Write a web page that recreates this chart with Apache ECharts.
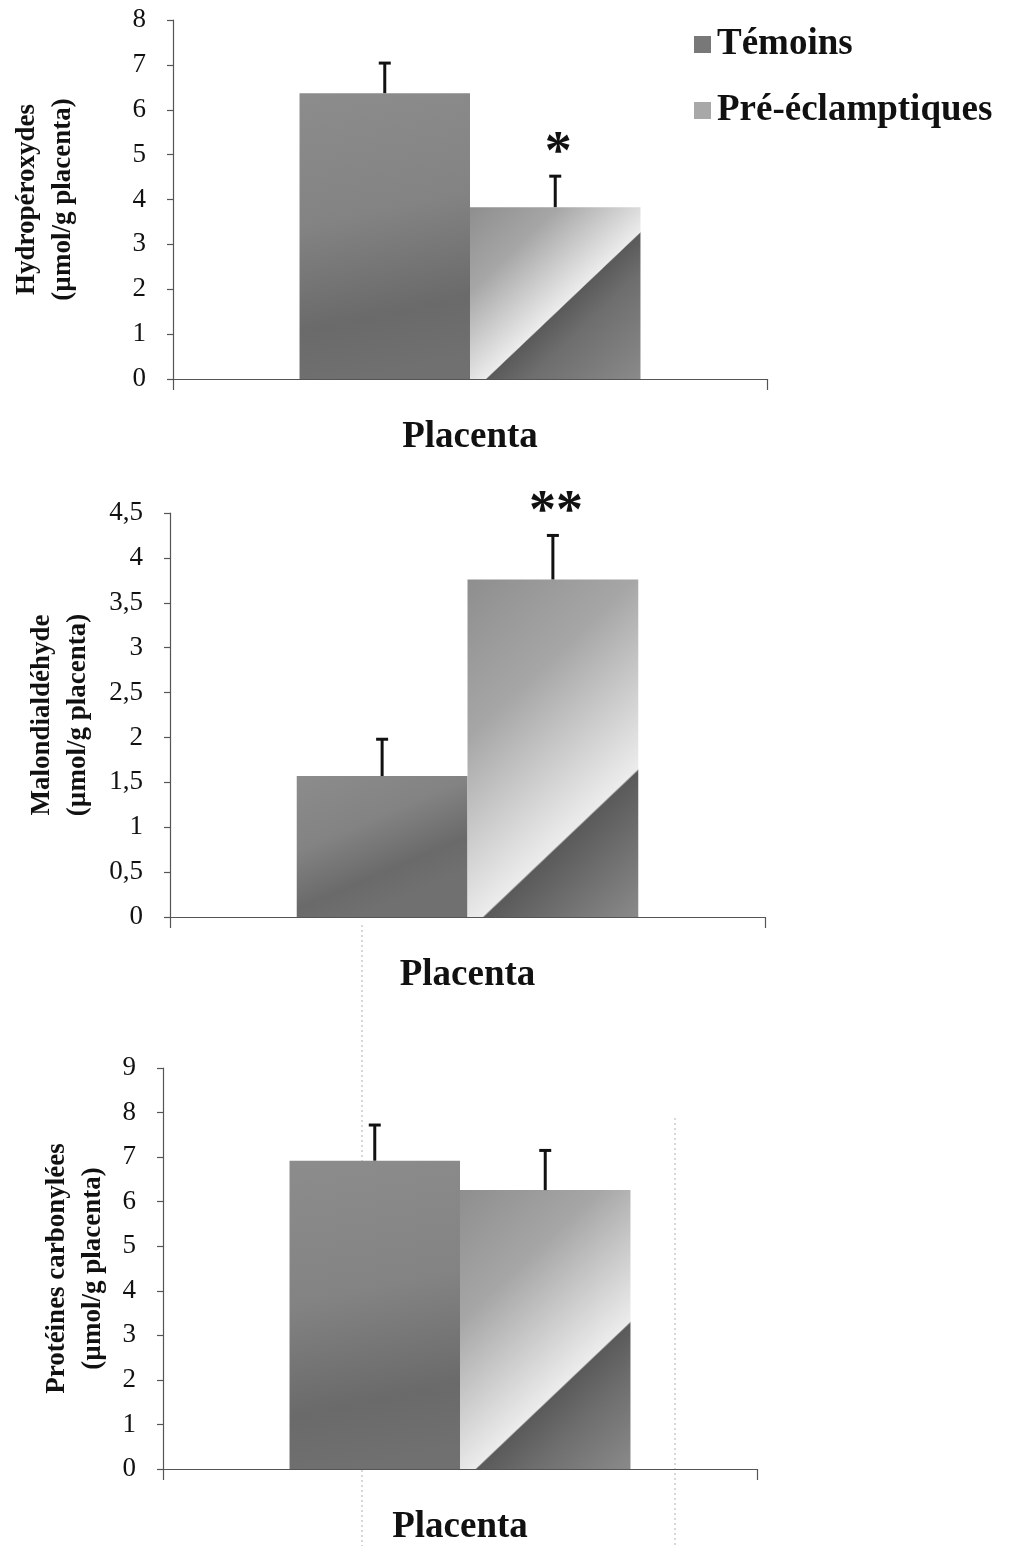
<!DOCTYPE html>
<html>
<head>
<meta charset="utf-8">
<script src="https://cdn.jsdelivr.net/npm/echarts@6/dist/echarts.min.js"></script>
<style>
  html, body { margin: 0; padding: 0; background: #ffffff; }
  #chart { width: 1010px; height: 1546px; }
</style>
</head>
<body>
<div id="chart"></div>
<script>
// Oxidative stress markers in placenta: controls vs pre-eclamptic pregnancies
const categories = ['Placenta'];
const groupNames = ['Témoins', 'Pré-éclamptiques'];
const axisTitles = [
  'Hydropéroxydes\n(µmol/g placenta)',
  'Malondialdéhyde\n(µmol/g placenta)',
  'Protéines carbonylées\n(µmol/g placenta)'
];
const temoinsMean = [6.37, 1.57, 6.92];
const temoinsErr  = [0.67, 0.41, 0.80];
const preMean     = [3.83, 3.76, 6.26];
const preErr      = [0.69, 0.49, 0.89];
const significance = ['*', '**', ''];
const yMax  = [8, 4.5, 9];
const yStep = [1, 0.5, 1];

const SERIF = "'Liberation Serif', 'Times New Roman', serif";
const INK = '#111111';
const AXIS = '#555555';

// panel frames
const grids = [
  { left: 173, top: 20,   width: 594, height: 359 },
  { left: 170, top: 513,  width: 595, height: 404 },
  { left: 163, top: 1068, width: 594, height: 407 }
];
const nameGaps = [92, 74, 52];
const BAR_RATIO = 0.287;

function fmtTick(v) {
  return String(v).replace('.', ',');
}

// darker textured grey for the control bars
function temoinsFill() {
  return new echarts.graphic.LinearGradient(0, 0, 0.35, 1, [
    { offset: 0, color: '#8c8c8c' },
    { offset: 0.45, color: '#838383' },
    { offset: 0.8, color: '#6a6a6a' },
    { offset: 1, color: '#707070' }
  ]);
}

// diagonal light/dark split fill for the pre-eclamptic bars
function preFill(x0, yt, w, h) {
  const slope = 0.95;
  const sMax = slope * w + h;
  const k = sMax / (1 + slope * slope);
  const split = (slope * 0.1 * w + h) / sMax;
  return new echarts.graphic.LinearGradient(
    x0, yt, x0 + slope * k, yt + k,
    [
      { offset: 0, color: '#8e8e8e' },
      { offset: split * 0.45, color: '#a6a6a6' },
      { offset: split - 0.005, color: '#ececec' },
      { offset: split, color: '#5a5a5a' },
      { offset: Math.min(1, split + 0.12), color: '#6e6e6e' },
      { offset: 1, color: '#8a8a8a' }
    ],
    true
  );
}

function makeRenderer(group, panel) {
  return function (params, api) {
    const c = api.value(0);
    const mean = api.value(1);
    const err = api.value(2);
    const base = api.coord([c, 0]);
    const top = api.coord([c, mean]);
    const tip = api.coord([c, mean + err]);
    const band = api.size([1, 0])[0];
    const w = band * BAR_RATIO;
    const x0 = base[0] + (group === 0 ? -w : 0);
    const h = base[1] - top[1];
    const cx = x0 + w / 2;
    const children = [
      {
        type: 'rect',
        shape: { x: x0, y: top[1], width: w, height: h },
        style: { fill: group === 0 ? temoinsFill() : preFill(x0, top[1], w, h) }
      },
      {
        type: 'line',
        shape: { x1: cx, y1: top[1], x2: cx, y2: tip[1] },
        style: { stroke: INK, lineWidth: 3 }
      },
      {
        type: 'line',
        shape: { x1: cx - 6, y1: tip[1], x2: cx + 6, y2: tip[1] },
        style: { stroke: INK, lineWidth: 3 }
      }
    ];
    if (group === 1 && significance[panel]) {
      children.push({
        type: 'text',
        x: cx + 3,
        y: tip[1] - 22,
        style: {
          text: significance[panel],
          fill: INK,
          font: 'bold 54px ' + SERIF,
          textAlign: 'center',
          textVerticalAlign: 'middle'
        }
      });
    }
    return { type: 'group', children: children };
  };
}

const xAxes = grids.map((g, i) => ({
  type: 'category',
  gridIndex: i,
  data: categories,
  axisLine: { lineStyle: { color: AXIS, width: 1.2 } },
  axisTick: { show: true, length: 11, lineStyle: { color: AXIS, width: 1.2 } },
  axisLabel: {
    margin: 40,
    fontFamily: SERIF,
    fontWeight: 'bold',
    fontSize: 37,
    color: INK
  }
}));

const yAxes = grids.map((g, i) => ({
  type: 'value',
  gridIndex: i,
  min: 0,
  max: yMax[i],
  interval: yStep[i],
  name: axisTitles[i],
  nameLocation: 'middle',
  nameRotate: 90,
  nameGap: nameGaps[i],
  nameTextStyle: {
    fontFamily: SERIF,
    fontWeight: 'bold',
    fontSize: 27,
    lineHeight: 36,
    color: INK
  },
  axisLine: { show: true, lineStyle: { color: AXIS, width: 1.2 } },
  axisTick: { show: true, length: 6, lineStyle: { color: AXIS, width: 1.2 } },
  splitLine: { show: false },
  axisLabel: {
    margin: 27,
    fontFamily: SERIF,
    fontSize: 27,
    color: INK,
    formatter: fmtTick
  }
}));

const series = [];
grids.forEach((g, i) => {
  series.push({
    type: 'custom',
    name: groupNames[0],
    xAxisIndex: i,
    yAxisIndex: i,
    renderItem: makeRenderer(0, i),
    data: [[0, temoinsMean[i], temoinsErr[i]]],
    itemStyle: { color: '#7a7a7a' },
    z: 3
  });
  series.push({
    type: 'custom',
    name: groupNames[1],
    xAxisIndex: i,
    yAxisIndex: i,
    renderItem: makeRenderer(1, i),
    data: [[0, preMean[i], preErr[i]]],
    itemStyle: { color: '#a6a6a6' },
    z: 3
  });
});

const chart = echarts.init(document.getElementById('chart'), null, { renderer: 'canvas' });
chart.setOption({
  backgroundColor: '#ffffff',
  animation: false,
  legend: {
    orient: 'vertical',
    left: 689,
    top: 21,
    itemWidth: 17,
    itemHeight: 17,
    itemGap: 29,
    icon: 'rect',
    data: [
      { name: groupNames[0], itemStyle: { color: '#787878' } },
      { name: groupNames[1], itemStyle: { color: '#a8a8a8' } }
    ],
    textStyle: {
      fontFamily: SERIF,
      fontWeight: 'bold',
      fontSize: 37,
      color: INK,
      padding: [0, 0, 0, 1]
    }
  },
  grid: grids.map(g => Object.assign({ containLabel: false }, g)),
  xAxis: xAxes,
  yAxis: yAxes,
  series: series,
  graphic: [
    {
      type: 'line', z: -1, silent: true,
      shape: { x1: 362, y1: 925, x2: 362, y2: 1546 },
      style: { stroke: '#b0b0b0', lineWidth: 1, lineDash: [2, 3] }
    },
    {
      type: 'line', z: -1, silent: true,
      shape: { x1: 675, y1: 1118, x2: 675, y2: 1546 },
      style: { stroke: '#b0b0b0', lineWidth: 1, lineDash: [2, 3] }
    }
  ]
});
</script>
</body>
</html>
